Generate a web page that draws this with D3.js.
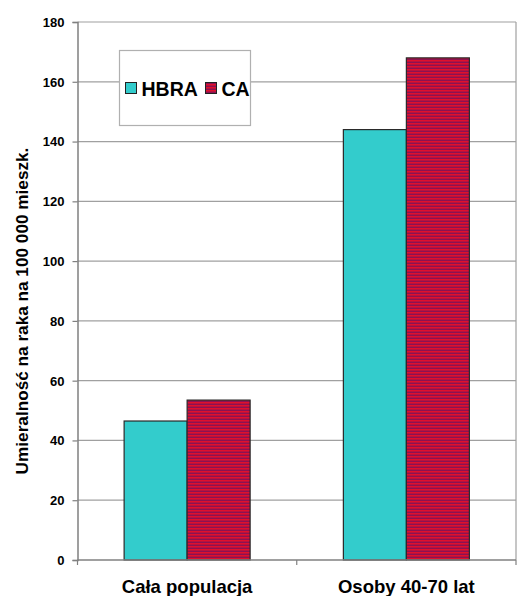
<!DOCTYPE html>
<html>
<head>
<meta charset="utf-8">
<script src="https://cdn.jsdelivr.net/npm/d3@7"></script>
<style>
  html, body { margin: 0; padding: 0; background: #fff; }
  svg { display: block; }
  text { font-family: "Liberation Sans", Arial, sans-serif; font-weight: bold; fill: #000; }
</style>
</head>
<body>
<svg id="chart" width="517" height="596"></svg>
<script>
const categories = ["Cała populacja", "Osoby 40-70 lat"];
const seriesNames = ["HBRA", "CA"];
const hbraValues = [46.5, 144];
const caValues = [53.5, 168];
const yTicks = [0, 20, 40, 60, 80, 100, 120, 140, 160, 180];
const yLabel = "Umieralność na raka na 100 000 mieszk.";

const svg = d3.select("#chart");
const margin = { left: 77.5, right: 516, top: 22, bottom: 560 };

const defs = svg.append("defs");
const pat = defs.append("pattern")
  .attr("id", "stripes")
  .attr("patternUnits", "userSpaceOnUse")
  .attr("width", 8).attr("height", 3);
pat.append("rect").attr("width", 8).attr("height", 3).attr("fill", "#b8123e");
pat.append("rect").attr("y", 0).attr("width", 8).attr("height", 1).attr("fill", "#e0102c");
pat.append("rect").attr("y", 2).attr("width", 8).attr("height", 1).attr("fill", "#8c1252");

const x = d3.scaleBand().domain(categories).range([margin.left, margin.right]);
const xs = d3.scaleBand().domain(seriesNames).range([0, x.bandwidth()]).paddingInner(0).paddingOuter(0.74);
const y = d3.scaleLinear().domain([0, 180]).range([margin.bottom, margin.top]);

// gridlines
svg.append("g").selectAll("line").data(yTicks.filter(d => d > 0)).join("line")
  .attr("x1", margin.left).attr("x2", margin.right)
  .attr("y1", d => y(d)).attr("y2", d => y(d))
  .attr("stroke", "#a0a0a0").attr("stroke-width", 1.2);
// right border line
svg.append("line").attr("x1", margin.right).attr("x2", margin.right)
  .attr("y1", margin.top).attr("y2", margin.bottom)
  .attr("stroke", "#a0a0a0").attr("stroke-width", 1.2);

// bars
const data = [];
categories.forEach((c, i) => {
  data.push({ cat: c, s: "HBRA", v: hbraValues[i] });
  data.push({ cat: c, s: "CA", v: caValues[i] });
});
svg.append("g").selectAll("rect").data(data).join("rect")
  .attr("x", d => x(d.cat) + xs(d.s))
  .attr("width", xs.bandwidth())
  .attr("y", d => y(d.v))
  .attr("height", d => y(0) - y(d.v))
  .attr("fill", d => d.s === "HBRA" ? "#33cccc" : "url(#stripes)")
  .attr("stroke", "#2a2a2a").attr("stroke-width", 1.2);

// y axis
const yAxis = d3.axisLeft(y).tickValues(yTicks).tickSize(5).tickPadding(8);
const gy = svg.append("g").attr("transform", `translate(${margin.left},0)`).call(yAxis);
gy.select(".domain").attr("stroke", "#808080").attr("stroke-width", 1.5);
gy.selectAll(".tick line").attr("stroke", "#808080").attr("stroke-width", 1.2);
gy.selectAll("text").attr("font-size", 13).attr("font-family", "Liberation Sans, Arial, sans-serif")
  .attr("font-weight", "bold").attr("fill", "#1a1a1a").attr("dy", "0.34em");

// x axis
const gx = svg.append("g").attr("transform", `translate(0,${margin.bottom})`);
gx.append("line").attr("x1", margin.left).attr("x2", margin.right)
  .attr("stroke", "#808080").attr("stroke-width", 1.5);
const bounds = [margin.left, x(categories[1]), margin.right];
gx.selectAll("line.tk").data(bounds).join("line").attr("class", "tk")
  .attr("x1", d => d).attr("x2", d => d).attr("y1", 0).attr("y2", 5)
  .attr("stroke", "#808080").attr("stroke-width", 1.2);
gx.selectAll("text").data(categories).join("text")
  .attr("x", d => x(d) + x.bandwidth() / 2)
  .attr("y", 32.5)
  .attr("text-anchor", "middle")
  .attr("font-size", 18.5)
  .text(d => d);

// y label
svg.append("text")
  .attr("transform", `translate(28,311) rotate(-90)`)
  .attr("text-anchor", "middle")
  .attr("font-size", 17.2)
  .text(yLabel);

// legend
const lg = svg.append("g");
lg.append("rect").attr("x", 119.5).attr("y", 50.5).attr("width", 131).attr("height", 75)
  .attr("fill", "#fff").attr("stroke", "#b0b0b0").attr("stroke-width", 1.2);
const legendItems = [
  { name: seriesNames[0], sx: 125.5, tx: 141.5, fill: "#33cccc" },
  { name: seriesNames[1], sx: 205.5, tx: 221.5, fill: "url(#stripes)" }
];
legendItems.forEach(it => {
  lg.append("rect").attr("x", it.sx).attr("y", 82.5).attr("width", 11).attr("height", 11)
    .attr("fill", it.fill).attr("stroke", "#222").attr("stroke-width", 1);
  lg.append("text").attr("x", it.tx).attr("y", 95.5).attr("font-size", 19.5).text(it.name);
});
</script>
</body>
</html>
